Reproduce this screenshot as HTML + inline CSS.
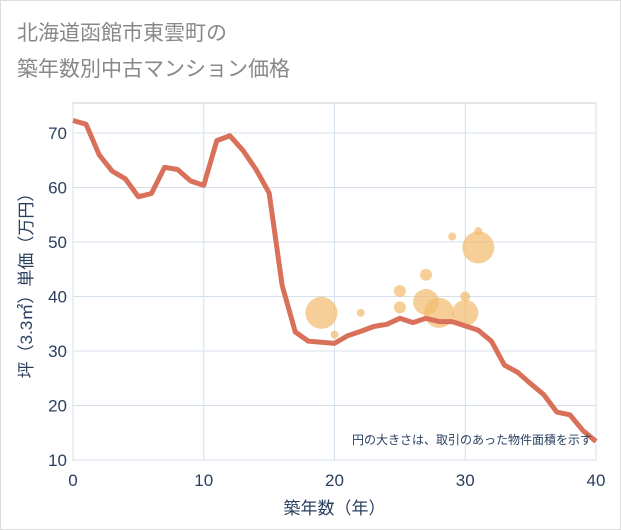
<!DOCTYPE html>
<html><head><meta charset="utf-8"><style>
body{margin:0;background:#fff;font-family:"Liberation Sans","Noto Sans CJK JP",sans-serif}
#wrap{position:relative;width:619px;height:528px;border:1px solid #ddd;}
</style></head><body>
<div id="wrap">
<svg id="c" width="621" height="530" style="position:absolute;left:-1px;top:-1px"></svg>
</div>
<script>
const years=[0,1,2,3,4,5,6,7,8,9,10,11,12,13,14,15,16,17,18,19,20,21,22,23,24,25,26,27,28,29,30,31,32,33,34,35,36,37,38,39,40];
const prices=[72.3,71.6,66,63,61.6,58.3,58.9,63.7,63.3,61.2,60.4,68.6,69.5,66.8,63.3,59,42,33.5,31.8,31.6,31.4,32.8,33.6,34.5,34.9,36,35.2,36,35.4,35.4,34.6,33.8,31.8,27.4,26.1,24,22,18.8,18.3,15.4,13.4];
const bubbleX=[19,20,22,25,25,27,27,28,29,30,30,31,31];
const bubbleY=[37,33,37,41,38,44,39,37,51,40,37,52,49];
const bubbleR=[16,4,4,6,6,6,13,15,4,5,13,4,16];
const xTicks=[0,10,20,30,40];
const yTicks=[10,20,30,40,50,60,70];
const NS="http://www.w3.org/2000/svg";
const svg=document.getElementById('c');
const L=73,R=596,T=103,B=460;
const X=v=>L+(v-0)/40*(R-L);
const Y=v=>460-(v-10)*5.45;
function mk(t,a,p){const e=document.createElementNS(NS,t);for(const k in a)e.setAttribute(k,a[k]);(p||svg).appendChild(e);return e;}
function txt(x,y,s,a){const e=mk('text',Object.assign({x:x,y:y},a));e.textContent=s;return e;}
let t1=txt(17,40,'北海道函館市東雲町の',{'font-size':21,fill:'#888'});


let t2=txt(17,76,'築年数別中古マンション価格',{'font-size':21,fill:'#888'});


let bg=mk('rect',{x:L,y:T,width:R-L,height:B-T,fill:'#fff',stroke:'#ccc'});


xTicks.forEach(v=>{
 let g=mk('line',{x1:X(v),x2:X(v),y1:T,y2:B,stroke:'#d4e0ec','stroke-width':1});
 
 
 let l=txt(X(v),486,v,{'font-size':17,fill:'#2a3f5f','text-anchor':'middle'});
 
 
});
yTicks.forEach(v=>{
 let g=mk('line',{x1:L,x2:R,y1:Y(v),y2:Y(v),stroke:'#d4e0ec','stroke-width':1});
 
 
 let l=txt(67,Y(v)+6,v,{'font-size':17,fill:'#2a3f5f','text-anchor':'end'});
 
 
});
bubbleX.forEach((v,i)=>{
 let c=mk('circle',{cx:X(v),cy:Y(bubbleY[i]),r:bubbleR[i],fill:'#f2bb6c','fill-opacity':0.7});
 
 
});
let p=mk('polyline',{points:years.map((v,i)=>X(v)+','+Y(prices[i])).join(' '),fill:'none',stroke:'#d9705a','stroke-width':5,'stroke-linejoin':'round'});


let xt=txt((L+R)/2,514,'築年数（年）',{'font-size':17,fill:'#2a3f5f','text-anchor':'middle'});


let yt=txt(0,0,'坪（3.3㎡）単価（万円）',{'font-size':17,fill:'#2a3f5f','text-anchor':'middle',transform:'translate(32,'+((T+B)/2)+') rotate(-90)'});


let note=txt(592,444,'円の大きさは、取引のあった物件面積を示す',{'font-size':12,fill:'#2a3f5f','text-anchor':'end'});


</script>
</body></html>
